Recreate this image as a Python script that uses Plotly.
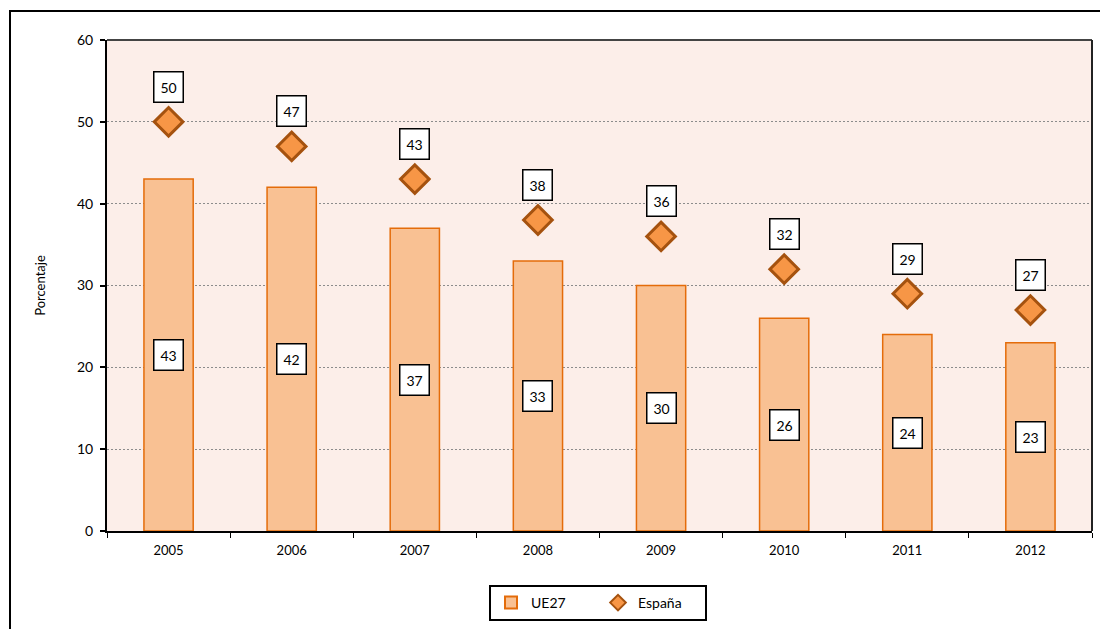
import plotly.graph_objects as go

years = ["2005", "2006", "2007", "2008", "2009", "2010", "2011", "2012"]
ue27 = [43, 42, 37, 33, 30, 26, 24, 23]
espana = [50, 47, 43, 38, 36, 32, 29, 27]
y_ticks = [0, 10, 20, 30, 40, 50, 60]

FONT = "Lato, 'Open Sans', sans-serif"

# page body has an 8px margin, so the figure is sized 1100x621
W, H = 1100, 621
ML, MR, MT, MB = 99, 16, 32, 98
PW, PH = W - ML - MR, H - MT - MB

fig = go.Figure()
fig.add_trace(go.Bar(
    x=years, y=ue27, name="UE27",
    marker=dict(color="#F9C193", line=dict(color="#E46C0A", width=1.5)),
    width=0.4,
))
fig.add_trace(go.Scatter(
    x=years, y=espana, name="España", mode="markers",
    marker=dict(symbol="diamond", size=22, color="#F79646",
                line=dict(color="#A5520F", width=3)),
))

ann = []
for i, v in enumerate(ue27):
    ann.append(dict(x=i, y=v / 2, text=str(v), showarrow=False,
                    bgcolor="white", bordercolor="black", borderwidth=1.5,
                    borderpad=6, font=dict(family=FONT, size=14, color="black")))
for i, v in enumerate(espana):
    ann.append(dict(x=i, y=v, text=str(v), showarrow=False, yshift=35,
                    bgcolor="white", bordercolor="black", borderwidth=1.5,
                    borderpad=6, font=dict(family=FONT, size=14, color="black")))

fig.update_layout(
    width=W, height=H,
    margin=dict(l=ML, r=MR, t=MT, b=MB, autoexpand=False),
    paper_bgcolor="white",
    plot_bgcolor="#FCEEE9",
    font=dict(family=FONT, size=13, color="black"),
    showlegend=True,
    legend=dict(orientation="h", x=(598 - 107) / PW, xanchor="center",
                y=-(585 - 531) / PH, yanchor="top",
                bordercolor="black", borderwidth=2, bgcolor="white",
                font=dict(family=FONT, size=14), entrywidth=62,
                itemsizing="constant", itemwidth=30),
    annotations=ann,
)
fig.update_xaxes(
    type="category", range=[-0.5, 7.5], showline=True, linecolor="black", linewidth=2,
    ticks="outside", tickson="boundaries", ticklen=5, tickcolor="black",
    tickfont=dict(family=FONT, size=13), showgrid=False, tickangle=0,
    ticklabelstandoff=6, automargin=False,
)
fig.update_yaxes(
    range=[0, 60], tickvals=y_ticks, showline=True, linecolor="black", linewidth=2,
    ticks="outside", ticklen=5, tickcolor="black", tickwidth=2,
    tickfont=dict(family=FONT, size=14), ticklabelstandoff=4,
    showgrid=True, gridcolor="#8C8C8C", griddash="2px,2px", gridwidth=1,
    title=dict(text="Porcentaje", font=dict(family=FONT, size=13), standoff=28),
    zeroline=False, automargin=False,
)
# plot area top/right border
fig.add_shape(type="line", xref="paper", yref="paper", x0=0, x1=1, y0=1, y1=1,
              line=dict(color="#444444", width=2))
fig.add_shape(type="line", xref="paper", yref="paper", x0=1, x1=1, y0=0, y1=1,
              line=dict(color="#222222", width=2))
# outer chart border
fig.add_shape(type="rect", xref="paper", yref="paper",
              x0=(10 - 107) / PW, x1=(1125 - 107) / PW,
              y0=(531 - 650) / PH, y1=(531 - 11) / PH,
              line=dict(color="black", width=2), layer="below")

fig.write_html("out.html")
